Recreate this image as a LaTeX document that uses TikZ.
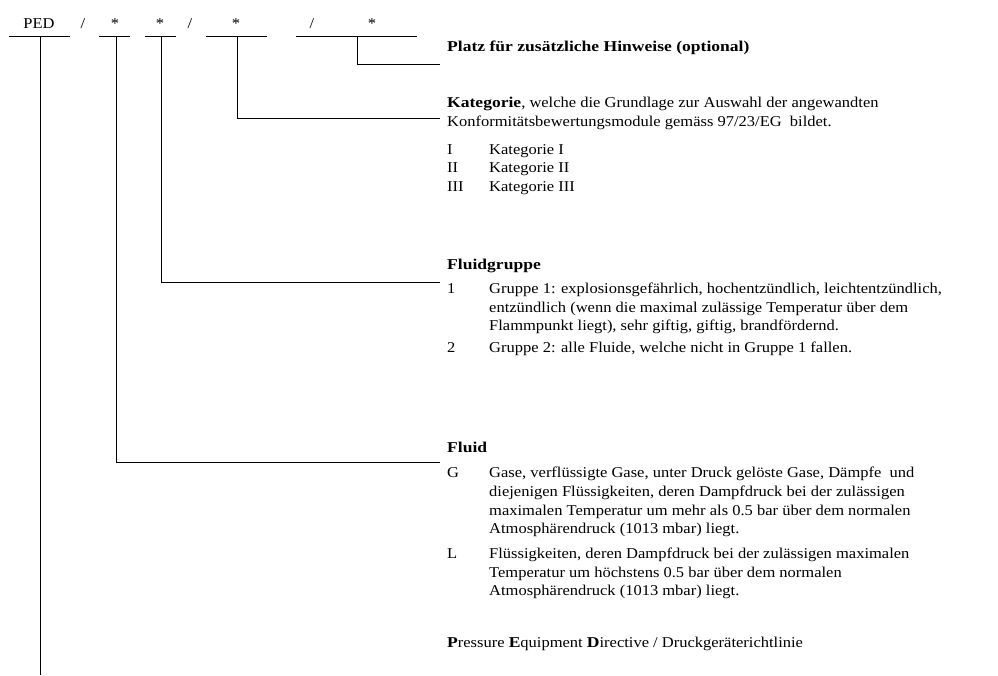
\documentclass[tikz,border=0pt]{standalone}
\usepackage{fontspec}
\setmainfont{Liberation Serif}[FakeStretch=1.1,BoldFeatures={FakeStretch=1.17}]
\begin{document}
\begin{tikzpicture}[x=1pt,y=-1pt,
  txt/.style={anchor=base west,inner sep=0pt,font=\fontsize{15}{18}\selectfont},
  hdr/.style={anchor=base,inner sep=0pt,font=\fontsize{15}{18}\selectfont},
  ln/.style={line width=1pt}]
\useasboundingbox (0,0) rectangle (998,675);
% header
\node[hdr] (hped) at (39,28) {PED};
\node[hdr] (hs1) at (83,28) {/};
\node[hdr] (ha1) at (115,28) {*};
\node[hdr] (ha2) at (160,28) {*};
\node[hdr] (hs2) at (190,28) {/};
\node[hdr] (ha3) at (236,28) {*};
\node[hdr] (hs3) at (312,28) {/};
\node[hdr] (ha4) at (372,28) {*};
% underlines
\draw[ln] (9,36) -- (70,36);
\draw[ln] (99,36) -- (130,36);
\draw[ln] (145,36) -- (176,36);
\draw[ln] (206,36) -- (267,36);
\draw[ln] (296,36) -- (417,36);
% coordinates
\coordinate (u0) at (40,36);
\coordinate (u1) at (116,36);
\coordinate (u2) at (161,36);
\coordinate (u3) at (237,36);
\coordinate (u4) at (357,36);
\coordinate (e0) at (40,675);
\coordinate (e1) at (440,462);
\coordinate (e2) at (440,282);
\coordinate (e3) at (440,118);
\coordinate (e4) at (440,64);
% connectors
\draw[ln] (u0) -- (e0);
\draw[ln] (u1) |- (e1);
\draw[ln] (u2) |- (e2);
\draw[ln] (u3) |- (e3);
\draw[ln] (u4) |- (e4);
% texts
\node[txt] (platz) at (447,51) {\textbf{Platz für zusätzliche Hinweise (optional)}};
\node[txt] (kat1) at (447,107) {\textbf{Kategorie}, welche die Grundlage zur Auswahl der angewandten};
\node[txt] (kat2) at (447,126) {Konformitätsbewertungsmodule gemäss 97/23/EG\ \ bildet.};
\node[txt] (k1l) at (447,154) {I};
\node[txt] (k1t) at (489,154) {Kategorie I};
\node[txt] (k2l) at (447,172) {II};
\node[txt] (k2t) at (489,172) {Kategorie II};
\node[txt] (k3l) at (447,191) {III};
\node[txt] (k3t) at (489,191) {Kategorie III};
\node[txt] (fg) at (447,269) {\textbf{Fluidgruppe}};
\node[txt] (g1l) at (447,293) {1};
\node[txt] (g1a) at (489,293) {Gruppe 1: explosionsgefährlich, hochentzündlich, leichtentzündlich,};
\node[txt] (g1b) at (489,312) {entzündlich (wenn die maximal zulässige Temperatur über dem};
\node[txt] (g1c) at (489,330) {Flammpunkt liegt), sehr giftig, giftig, brandfördernd.};
\node[txt] (g2l) at (447,352) {2};
\node[txt] (g2a) at (489,352) {Gruppe 2: alle Fluide, welche nicht in Gruppe 1 fallen.};
\node[txt] (fl) at (447,452) {\textbf{Fluid}};
\node[txt] (gl) at (447,477) {G};
\node[txt] (ga) at (489,477) {Gase, verflüssigte Gase, unter Druck gelöste Gase, Dämpfe\ \ und};
\node[txt] (gb) at (489,496) {diejenigen Flüssigkeiten, deren Dampfdruck bei der zulässigen};
\node[txt] (gc) at (489,515) {maximalen Temperatur um mehr als 0.5 bar über dem normalen};
\node[txt] (gd) at (489,533) {Atmosphärendruck (1013 mbar) liegt.};
\node[txt] (ll) at (447,558) {L};
\node[txt] (la) at (489,558) {Flüssigkeiten, deren Dampfdruck bei der zulässigen maximalen};
\node[txt] (lb) at (489,577) {Temperatur um höchstens 0.5 bar über dem normalen};
\node[txt] (lc) at (489,595) {Atmosphärendruck (1013 mbar) liegt.};
\node[txt] (ped) at (447,647) {\textbf{P}ressure \textbf{E}quipment \textbf{D}irective / Druckgeräterichtlinie};
\end{tikzpicture}
\end{document}
